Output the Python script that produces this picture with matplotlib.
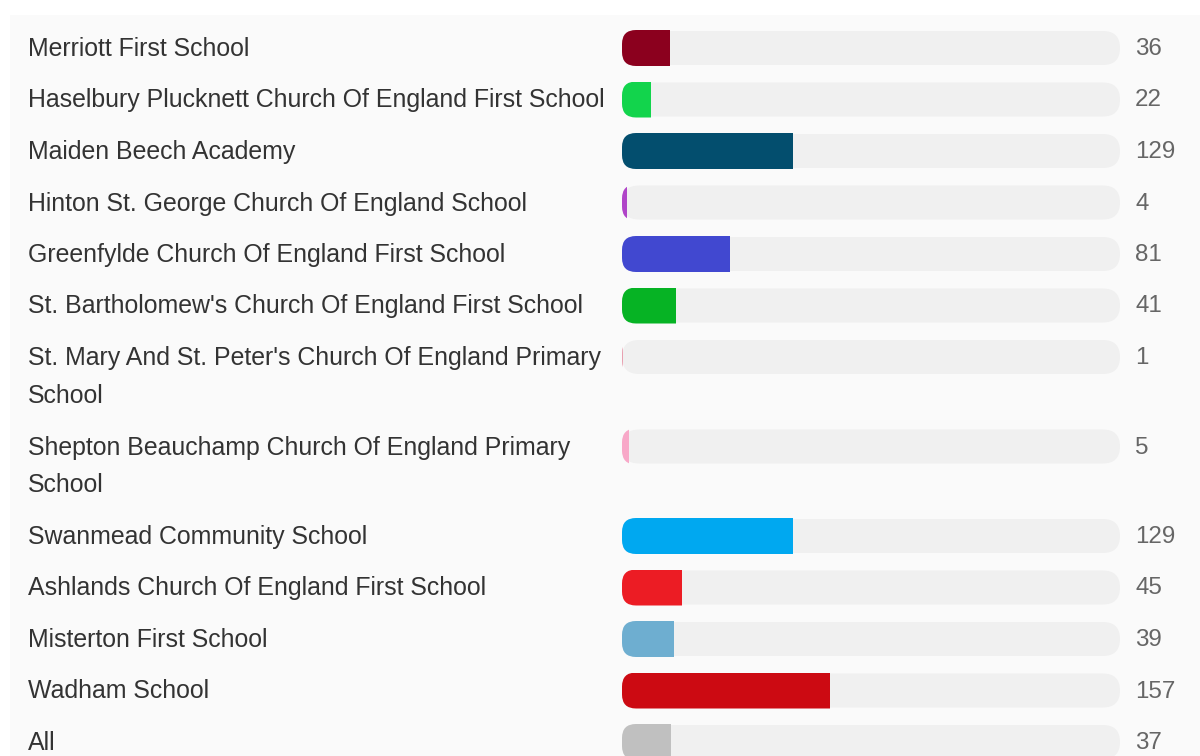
#!/usr/bin/env python3
"""Horizontal pill-style bar chart of pupil counts per school."""

import matplotlib
matplotlib.use("Agg")
import matplotlib.pyplot as plt
import matplotlib.transforms as mtransforms
from matplotlib.patches import FancyBboxPatch, Rectangle

# ---------------------------------------------------------------------------
# Data
# ---------------------------------------------------------------------------
schools = [
    "Merriott First School",
    "Haselbury Plucknett Church Of England First School",
    "Maiden Beech Academy",
    "Hinton St. George Church Of England School",
    "Greenfylde Church Of England First School",
    "St. Bartholomew's Church Of England First School",
    "St. Mary And St. Peter's Church Of England Primary School",
    "Shepton Beauchamp Church Of England Primary School",
    "Swanmead Community School",
    "Ashlands Church Of England First School",
    "Misterton First School",
    "Wadham School",
    "All",
]
counts = [36, 22, 129, 4, 81, 41, 1, 5, 129, 45, 39, 157, 37]
colors = [
    "#8b001e", "#12d44c", "#034e6e", "#b044c8", "#4148d0", "#06b324",
    "#e8a0b0", "#f8a8c8", "#00a8f0", "#ec1c24", "#6eaed0", "#cc0a12",
    "#c0c0c0",
]
SCALE_MAX = 375  # value at the right end of the track

# ---------------------------------------------------------------------------
# Layout (pixels)
# ---------------------------------------------------------------------------
W, H = 1200, 756
TRACK_X0, TRACK_X1 = 622, 1120
LABEL_X, VALUE_X = 28, 1135
FIRST_ROW = 48
ROW_PITCH = 51.5
LINE_H = 38
WRAP_W = 592
FONT = ["Liberation Sans", "DejaVu Sans"]
FS = 17.9

fig = plt.figure(figsize=(W / 100, H / 100), dpi=100)
fig.patch.set_facecolor("white")
fig.add_artist(Rectangle((10 / W, 0), (W - 10) / W, (H - 15) / H,
                         transform=fig.transFigure, facecolor="#fafafa",
                         edgecolor="none", zorder=0))

ax = fig.add_axes([TRACK_X0 / W, 0, (TRACK_X1 - TRACK_X0) / W, 1])
ax.patch.set_visible(False)
ax.axis("off")
ax.set_xlim(0, SCALE_MAX)
ax.set_ylim(H, 0)

renderer = fig.canvas.get_renderer()


def wrap(label):
    lines, cur = [], ""
    for word in label.split():
        trial = (cur + " " + word).strip()
        t = fig.text(0, 0, trial, fontsize=FS, family=FONT)
        width = t.get_window_extent(renderer).width
        t.remove()
        if width > WRAP_W and cur:
            lines.append(cur)
            cur = word
        else:
            cur = trial
    lines.append(cur)
    return lines


wrapped = [wrap(s) for s in schools]
y_pos = []
y = FIRST_ROW
for lines in wrapped:
    y_pos.append(y)
    y += ROW_PITCH + (len(lines) - 1) * LINE_H

xpp = SCALE_MAX / (TRACK_X1 - TRACK_X0)  # data units per pixel


def pill(y0, height, radius, **kw):
    return FancyBboxPatch((0, y0), SCALE_MAX, height,
                          boxstyle=f"round,pad=0,rounding_size={radius * xpp}",
                          mutation_aspect=1 / xpp, **kw)


for yc in y_pos:
    ax.add_patch(pill(yc - 17, 34, 17, facecolor="#f0f0f0",
                      edgecolor="none", zorder=1))

bars = ax.barh(y_pos, counts, height=36, color=colors, zorder=2)
for rect, yc in zip(bars.patches, y_pos):
    clip = pill(yc - 18, 36, 14, facecolor="none", edgecolor="none")
    clip.set_transform(ax.transData)
    rect.set_clip_path(clip)

ax.set_xlim(0, SCALE_MAX)
ax.set_ylim(H, 0)

trans = mtransforms.blended_transform_factory(fig.transFigure, ax.transData)
for lines, yc, v in zip(wrapped, y_pos, counts):
    for i, line in enumerate(lines):
        ax.text(LABEL_X / W, yc + 1 + i * LINE_H, line, transform=trans,
                fontsize=FS, family=FONT, color="#333333",
                ha="left", va="center", clip_on=False)
    ax.text(VALUE_X / W, yc + 1, str(v), transform=trans, fontsize=FS - 0.5,
            family=FONT, color="#666666", ha="left", va="center",
            clip_on=False)

fig.savefig("out.png", dpi=100, facecolor=fig.get_facecolor())
plt.close(fig)
